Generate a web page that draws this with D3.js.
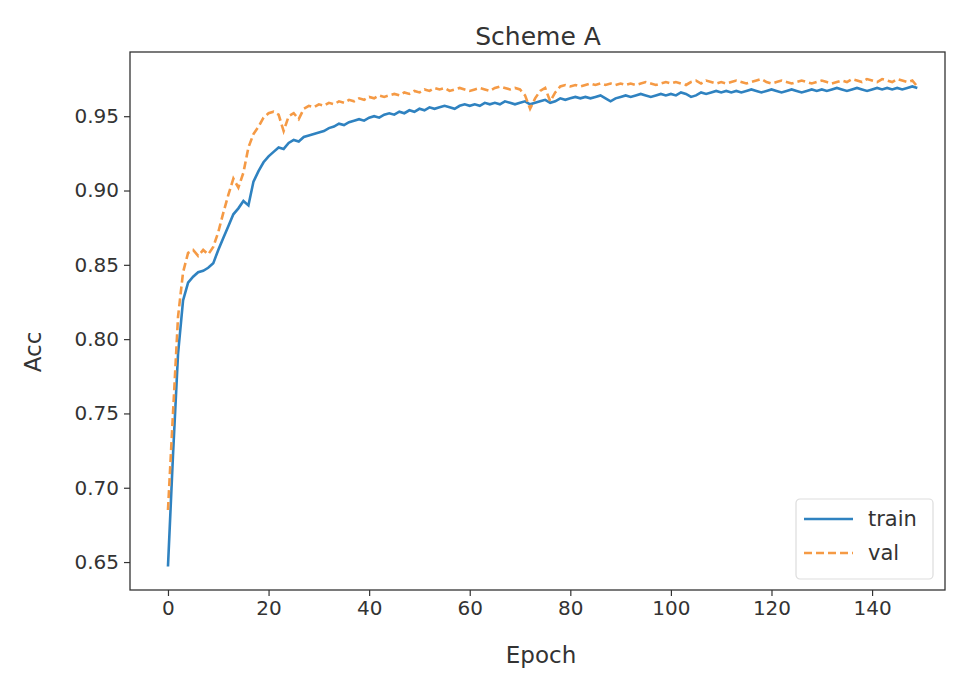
<!DOCTYPE html>
<html>
<head>
<meta charset="utf-8">
<script src="https://cdn.jsdelivr.net/npm/d3@7"></script>
<style>
body{margin:0;background:#fff;}
text{font-family:"DejaVu Sans",sans-serif;fill:#333;}
</style>
</head>
<body>
<svg width="957" height="688"></svg>
<script>
// training history
const epochs = d3.range(0,150);
const train = [
 0.647,0.722,0.790,0.826,0.838,0.842,0.845,0.846,0.848,0.851,
 0.860,0.868,0.876,0.884,0.888,0.893,0.890,0.906,0.913,0.919,
 0.923,0.926,0.929,0.928,0.932,0.934,0.933,0.936,0.937,0.938,
 0.939,0.940,0.942,0.943,0.945,0.944,0.946,0.947,0.948,0.947,
 0.949,0.950,0.949,0.951,0.952,0.951,0.953,0.952,0.954,0.953,
 0.955,0.954,0.956,0.955,0.956,0.957,0.956,0.955,0.957,0.958,
 0.957,0.958,0.957,0.959,0.958,0.959,0.958,0.960,0.959,0.958,
 0.959,0.960,0.958,0.959,0.960,0.961,0.959,0.960,0.962,0.961,
 0.962,0.963,0.962,0.963,0.962,0.963,0.964,0.962,0.960,0.962,
 0.963,0.964,0.963,0.964,0.965,0.964,0.963,0.964,0.965,0.964,
 0.965,0.964,0.966,0.965,0.963,0.964,0.966,0.965,0.966,0.967,
 0.966,0.967,0.966,0.967,0.966,0.967,0.968,0.967,0.966,0.967,
 0.968,0.967,0.966,0.967,0.968,0.967,0.966,0.967,0.968,0.967,
 0.968,0.967,0.968,0.969,0.968,0.967,0.968,0.969,0.968,0.967,
 0.968,0.969,0.968,0.969,0.968,0.969,0.968,0.969,0.970,0.969];
const val = [
 0.685,0.750,0.815,0.845,0.858,0.860,0.856,0.860,0.857,0.862,
 0.872,0.885,0.897,0.908,0.902,0.912,0.929,0.938,0.943,0.949,
 0.952,0.953,0.951,0.940,0.950,0.952,0.948,0.955,0.957,0.956,
 0.958,0.957,0.959,0.958,0.960,0.959,0.961,0.960,0.962,0.961,
 0.963,0.962,0.964,0.963,0.964,0.965,0.964,0.966,0.965,0.967,
 0.966,0.968,0.967,0.969,0.968,0.969,0.967,0.968,0.969,0.968,
 0.967,0.968,0.969,0.968,0.967,0.969,0.970,0.969,0.968,0.969,
 0.968,0.964,0.955,0.962,0.967,0.969,0.960,0.966,0.970,0.971,
 0.970,0.971,0.970,0.971,0.972,0.971,0.972,0.971,0.972,0.971,
 0.972,0.971,0.972,0.971,0.972,0.973,0.972,0.971,0.972,0.973,
 0.972,0.973,0.972,0.971,0.973,0.974,0.972,0.974,0.973,0.972,
 0.973,0.972,0.973,0.974,0.973,0.972,0.973,0.974,0.975,0.973,
 0.972,0.973,0.974,0.973,0.972,0.973,0.974,0.973,0.972,0.973,
 0.974,0.973,0.972,0.973,0.974,0.973,0.975,0.974,0.973,0.975,
 0.974,0.973,0.975,0.974,0.973,0.975,0.974,0.973,0.974,0.970];
const xticks = [0,20,40,60,80,100,120,140];
const yticks = [0.65,0.70,0.75,0.80,0.85,0.90,0.95];
const names = ["train","val"];
const colors = ["#2f82c0","#f59a45"];

var svg = d3.select("svg"),
    pL = 130, pR = 945, pT = 52, pB = 590;

var x = d3.scaleLinear().domain([-7.55,154.5]).range([pL,pR]);
var y = d3.scaleLinear().domain([0.6312,0.9932]).range([pB,pT]);

svg.append("text")
   .attr("x",538).attr("y",45)
   .attr("text-anchor","middle")
   .style("font-size","25px")
   .text("Scheme A");

var line = d3.line()
   .x((d,i)=>x(epochs[i]))
   .y(d=>y(d));

var plot = svg.append("g");
plot.append("path").datum(train)
    .attr("d",line).attr("fill","none")
    .attr("stroke",colors[0]).attr("stroke-width",2.6);
plot.append("path").datum(val)
    .attr("d",line).attr("fill","none")
    .attr("stroke",colors[1]).attr("stroke-width",2.6)
    .attr("stroke-dasharray","8,4");

// axes
var xa = svg.append("g").attr("transform","translate(0,"+pB+")")
   .call(d3.axisBottom(x).tickValues(xticks).tickSize(6).tickPadding(5).tickFormat(d3.format("d")));
var ya = svg.append("g").attr("transform","translate("+pL+",0)")
   .call(d3.axisLeft(y).tickValues(yticks).tickSize(6).tickPadding(5).tickFormat(d3.format(".2f")));
[xa,ya].forEach(function(a){
  a.select(".domain").remove();
  a.selectAll("line").attr("stroke","#333").attr("stroke-width",1.2);
  a.selectAll("text").style("font-size","20px").attr("fill","#333");
});

svg.append("rect")
   .attr("x",pL).attr("y",pT)
   .attr("width",pR-pL).attr("height",pB-pT)
   .attr("fill","none").attr("stroke","#333").attr("stroke-width",1.3);

svg.append("text")
   .attr("x",541).attr("y",663)
   .attr("text-anchor","middle")
   .style("font-size","23px")
   .text("Epoch");
svg.append("text")
   .attr("transform","translate(41,352) rotate(-90)")
   .attr("text-anchor","middle")
   .style("font-size","23px")
   .text("Acc");

// legend
var lg = svg.append("g").attr("transform","translate(796,499)");
lg.append("rect").attr("width",137).attr("height",80).attr("rx",4)
  .attr("fill","#fff").attr("fill-opacity",0.8)
  .attr("stroke","#ddd").attr("stroke-width",1.2);
lg.selectAll("line.key").data(names).enter().append("line")
  .attr("class","key")
  .attr("x1",8).attr("x2",57)
  .attr("y1",(d,i)=>20+i*34).attr("y2",(d,i)=>20+i*34)
  .attr("stroke",(d,i)=>colors[i]).attr("stroke-width",2.6)
  .attr("stroke-dasharray",(d,i)=>i? "8,4":null);
lg.selectAll("text").data(names).enter().append("text")
  .attr("x",72).attr("y",(d,i)=>27+i*34)
  .style("font-size","21px")
  .text(d=>d);
</script>
</body>
</html>
